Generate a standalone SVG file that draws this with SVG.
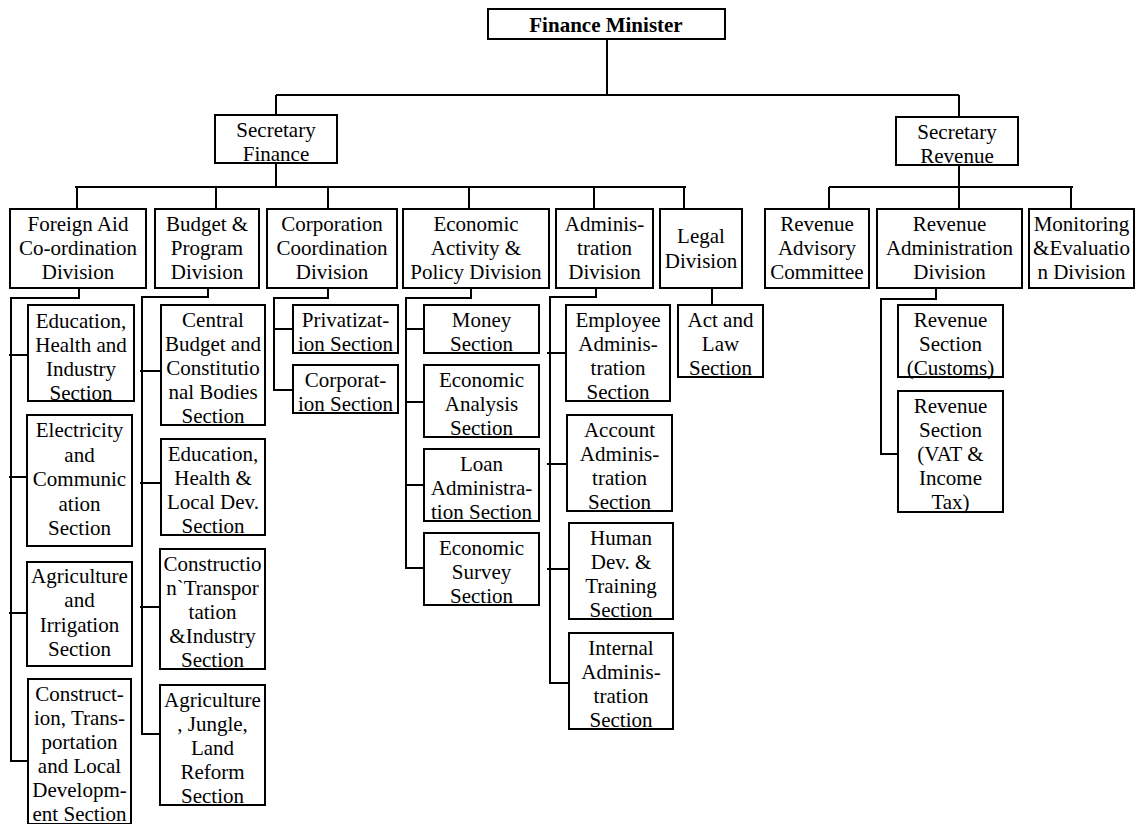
<svg xmlns="http://www.w3.org/2000/svg" width="1138" height="824" viewBox="0 0 1138 824">
<style>
.b{fill:#fff;stroke:#000;stroke-width:2}
.t{font-family:"Liberation Serif","Times New Roman",serif;font-size:21px;fill:#000;text-anchor:middle}
.tb{font-weight:bold}
.c{fill:none;stroke:#000;stroke-width:2}
</style>
<rect width="1138" height="824" fill="#fff"/>
<g id="connectors" class="c">
<path d="M607,39V95M276,95H959M276,95V115M959,95V117"/>
<path d="M276,163V187M75,187H686M77,187V209M216,187V209M328,187V209M469,187V209M594,187V209M684,187V209"/>
<path d="M959,165V187M829,187H1073M829,187V209M959,187V209M1071,187V209"/>
<path d="M79,288V298H11V761H30M9,355H28M9,477H27M9,613H27"/>
<path d="M208,288V297H142V734H160M140,371H161M140,483H161M140,607H160"/>
<path d="M328,288V298H274V390H293M274,329H293"/>
<path d="M471,288V298H406V568H424M406,329H424M406,402H424M406,485H424"/>
<path d="M596,288V297H550V683H569M547,353H566M547,464H567M547,569H569"/>
<path d="M712,288V305"/>
<path d="M936,289V299H881V454H900"/>
</g>
<g id="finance-minister"><rect class="b" x="488" y="9" width="237" height="30"/><text class="t tb" x="606" y="32">Finance Minister</text></g>
<g id="secretary-finance"><rect class="b" x="215" y="115" width="122" height="48"/><text class="t" x="276" y="137"><tspan x="276">Secretary</tspan><tspan x="276" dy="24">Finance</tspan></text></g>
<g id="secretary-revenue"><rect class="b" x="896" y="117" width="122" height="48"/><text class="t" x="957" y="139"><tspan x="957">Secretary</tspan><tspan x="957" dy="24">Revenue</tspan></text></g>

<g id="foreign-aid"><rect class="b" x="10" y="209" width="136" height="79"/><text class="t" y="231"><tspan x="78">Foreign Aid</tspan><tspan x="78" dy="24">Co-ordination</tspan><tspan x="78" dy="24">Division</tspan></text></g>
<g id="budget"><rect class="b" x="155" y="209" width="104" height="79"/><text class="t" y="231"><tspan x="207">Budget &amp;</tspan><tspan x="207" dy="24">Program</tspan><tspan x="207" dy="24">Division</tspan></text></g>
<g id="corporation"><rect class="b" x="267" y="209" width="130" height="79"/><text class="t" y="231"><tspan x="332">Corporation</tspan><tspan x="332" dy="24">Coordination</tspan><tspan x="332" dy="24">Division</tspan></text></g>
<g id="economic"><rect class="b" x="403" y="209" width="146" height="79"/><text class="t" y="231"><tspan x="476">Economic</tspan><tspan x="476" dy="24">Activity &amp;</tspan><tspan x="476" dy="24">Policy Division</tspan></text></g>
<g id="administration"><rect class="b" x="556" y="209" width="97" height="79"/><text class="t" y="231"><tspan x="604.5">Adminis-</tspan><tspan x="604.5" dy="24">tration</tspan><tspan x="604.5" dy="24">Division</tspan></text></g>
<g id="legal"><rect class="b" x="660" y="209" width="82" height="79"/><text class="t" y="243"><tspan x="701">Legal</tspan><tspan x="701" dy="25">Division</tspan></text></g>
<g id="revenue-advisory"><rect class="b" x="765" y="209" width="104" height="79"/><text class="t" y="231"><tspan x="817">Revenue</tspan><tspan x="817" dy="24">Advisory</tspan><tspan x="817" dy="24">Committee</tspan></text></g>
<g id="revenue-administration"><rect class="b" x="877" y="209" width="145" height="79"/><text class="t" y="231"><tspan x="949.5">Revenue</tspan><tspan x="949.5" dy="24">Administration</tspan><tspan x="949.5" dy="24">Division</tspan></text></g>
<g id="monitoring"><rect class="b" x="1029" y="209" width="105" height="79"/><text class="t" y="231"><tspan x="1081.5">Monitoring</tspan><tspan x="1081.5" dy="24">&amp;Evaluatio</tspan><tspan x="1081.5" dy="24">n Division</tspan></text></g>

<g id="fa-edu"><rect class="b" x="28" y="305" width="106" height="96"/><text class="t" y="328"><tspan x="81">Education,</tspan><tspan x="81" dy="24">Health and</tspan><tspan x="81" dy="24">Industry</tspan><tspan x="81" dy="24">Section</tspan></text></g>
<g id="fa-elec"><rect class="b" x="27" y="415" width="105" height="131"/><text class="t" y="437"><tspan x="79.5">Electricity</tspan><tspan x="79.5" dy="24.5">and</tspan><tspan x="79.5" dy="24.5">Communic</tspan><tspan x="79.5" dy="24.5">ation</tspan><tspan x="79.5" dy="24.5">Section</tspan></text></g>
<g id="fa-agri"><rect class="b" x="27" y="562" width="105" height="104"/><text class="t" y="583"><tspan x="79.5">Agriculture</tspan><tspan x="79.5" dy="24.3">and</tspan><tspan x="79.5" dy="24.3">Irrigation</tspan><tspan x="79.5" dy="24.3">Section</tspan></text></g>
<g id="fa-cons"><rect class="b" x="28" y="679" width="103" height="145"/><text class="t" y="701"><tspan x="79.5">Construct-</tspan><tspan x="79.5" dy="24">ion, Trans-</tspan><tspan x="79.5" dy="24">portation</tspan><tspan x="79.5" dy="24">and Local</tspan><tspan x="79.5" dy="24">Developm-</tspan><tspan x="79.5" dy="24">ent Section</tspan></text></g>

<g id="bp-central"><rect class="b" x="161" y="305" width="104" height="120"/><text class="t" y="327"><tspan x="213">Central</tspan><tspan x="213" dy="24">Budget and</tspan><tspan x="213" dy="24">Constitutio</tspan><tspan x="213" dy="24">nal Bodies</tspan><tspan x="213" dy="24">Section</tspan></text></g>
<g id="bp-edu"><rect class="b" x="161" y="439" width="104" height="96"/><text class="t" y="461"><tspan x="213">Education,</tspan><tspan x="213" dy="24">Health &amp;</tspan><tspan x="213" dy="24">Local Dev.</tspan><tspan x="213" dy="24">Section</tspan></text></g>
<g id="bp-cons"><rect class="b" x="160" y="549" width="105" height="120"/><text class="t" y="571"><tspan x="212.5">Constructio</tspan><tspan x="212.5" dy="24">n`Transpor</tspan><tspan x="212.5" dy="24">tation</tspan><tspan x="212.5" dy="24">&amp;Industry</tspan><tspan x="212.5" dy="24">Section</tspan></text></g>
<g id="bp-agri"><rect class="b" x="160" y="685" width="105" height="120"/><text class="t" y="707"><tspan x="212.5">Agriculture</tspan><tspan x="212.5" dy="24">, Jungle,</tspan><tspan x="212.5" dy="24">Land</tspan><tspan x="212.5" dy="24">Reform</tspan><tspan x="212.5" dy="24">Section</tspan></text></g>

<g id="cc-priv"><rect class="b" x="293" y="305" width="105" height="48"/><text class="t" y="327"><tspan x="345.5">Privatizat-</tspan><tspan x="345.5" dy="24">ion Section</tspan></text></g>
<g id="cc-corp"><rect class="b" x="293" y="365" width="105" height="48"/><text class="t" y="387"><tspan x="345.5">Corporat-</tspan><tspan x="345.5" dy="24">ion Section</tspan></text></g>

<g id="ea-money"><rect class="b" x="424" y="305" width="115" height="48"/><text class="t" y="327"><tspan x="481.5">Money</tspan><tspan x="481.5" dy="24">Section</tspan></text></g>
<g id="ea-analysis"><rect class="b" x="424" y="365" width="115" height="72"/><text class="t" y="387"><tspan x="481.5">Economic</tspan><tspan x="481.5" dy="24">Analysis</tspan><tspan x="481.5" dy="24">Section</tspan></text></g>
<g id="ea-loan"><rect class="b" x="424" y="449" width="115" height="72"/><text class="t" y="471"><tspan x="481.5">Loan</tspan><tspan x="481.5" dy="24">Administra-</tspan><tspan x="481.5" dy="24">tion Section</tspan></text></g>
<g id="ea-survey"><rect class="b" x="424" y="533" width="115" height="72"/><text class="t" y="555"><tspan x="481.5">Economic</tspan><tspan x="481.5" dy="24">Survey</tspan><tspan x="481.5" dy="24">Section</tspan></text></g>

<g id="ad-employee"><rect class="b" x="566" y="305" width="104" height="96"/><text class="t" y="327"><tspan x="618">Employee</tspan><tspan x="618" dy="24">Adminis-</tspan><tspan x="618" dy="24">tration</tspan><tspan x="618" dy="24">Section</tspan></text></g>
<g id="ad-account"><rect class="b" x="567" y="415" width="105" height="96"/><text class="t" y="437"><tspan x="619.5">Account</tspan><tspan x="619.5" dy="24">Adminis-</tspan><tspan x="619.5" dy="24">tration</tspan><tspan x="619.5" dy="24">Section</tspan></text></g>
<g id="ad-human"><rect class="b" x="569" y="523" width="104" height="96"/><text class="t" y="545"><tspan x="621">Human</tspan><tspan x="621" dy="24">Dev. &amp;</tspan><tspan x="621" dy="24">Training</tspan><tspan x="621" dy="24">Section</tspan></text></g>
<g id="ad-internal"><rect class="b" x="569" y="633" width="104" height="96"/><text class="t" y="655"><tspan x="621">Internal</tspan><tspan x="621" dy="24">Adminis-</tspan><tspan x="621" dy="24">tration</tspan><tspan x="621" dy="24">Section</tspan></text></g>

<g id="lg-act"><rect class="b" x="678" y="305" width="85" height="72"/><text class="t" y="327"><tspan x="720.5">Act and</tspan><tspan x="720.5" dy="24">Law</tspan><tspan x="720.5" dy="24">Section</tspan></text></g>

<g id="ra-customs"><rect class="b" x="898" y="305" width="105" height="72"/><text class="t" y="327"><tspan x="950.5">Revenue</tspan><tspan x="950.5" dy="24">Section</tspan><tspan x="950.5" dy="24">(Customs)</tspan></text></g>
<g id="ra-vat"><rect class="b" x="898" y="391" width="105" height="121"/><text class="t" y="413"><tspan x="950.5">Revenue</tspan><tspan x="950.5" dy="24">Section</tspan><tspan x="950.5" dy="24">(VAT &amp;</tspan><tspan x="950.5" dy="24">Income</tspan><tspan x="950.5" dy="24">Tax)</tspan></text></g>
</svg>
